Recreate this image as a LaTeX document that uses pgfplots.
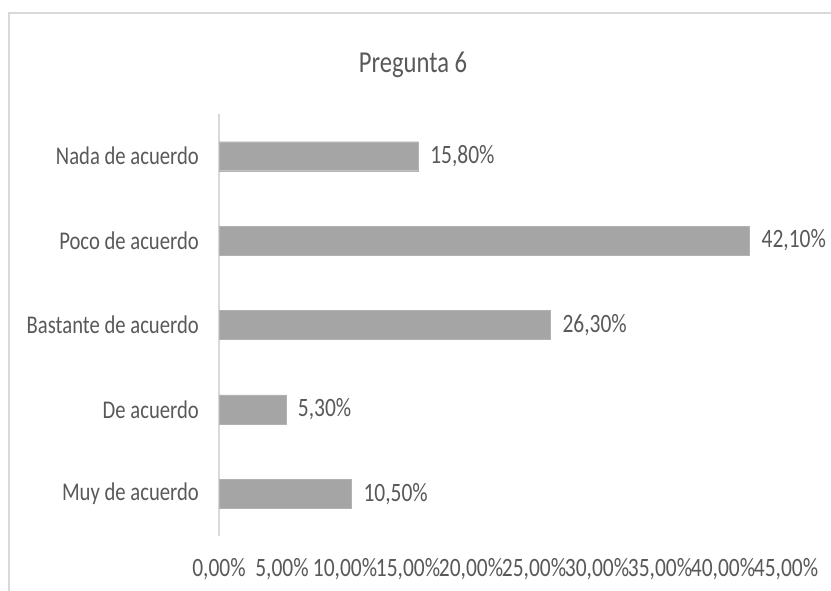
\documentclass[border=0pt]{standalone}
\usepackage{pgfplots}
\pgfplotsset{compat=1.18}
\usepackage{fontspec}
\setmainfont[FakeStretch=0.81]{Carlito}
\definecolor{txt}{HTML}{595959}
\definecolor{barc}{HTML}{A5A5A5}
\definecolor{frm}{HTML}{D9D9D9}
\begin{document}
\begin{tikzpicture}
\useasboundingbox (0,0) rectangle (831bp,591bp);
\draw[frm, line width=2bp] (9bp,-10bp) -- (9bp,578bp) -- (845bp,578bp);
\node[txt, font=\fontsize{30.4bp}{36bp}\selectfont] at (413bp,526bp) {Pregunta 6};
\begin{axis}[
  at={(219bp,55bp)}, anchor=south west,
  scale only axis, width=567bp, height=422bp,
  xbar, bar width=29bp,
  xmin=0, xmax=45, ymin=0.5, ymax=5.5,
  xtick={0,5,...,45},
  ytick={1,2,3,4,5},
  yticklabels={Muy de acuerdo,De acuerdo,Bastante de acuerdo,Poco de acuerdo,Nada de acuerdo},
  axis lines*=left,
  x axis line style={draw=none},
  y axis line style={draw=frm, line width=1.5bp},
  major tick length=0pt,
  /pgf/number format/assume math mode=true,
  xticklabel={\pgfmathprintnumber[fixed,fixed zerofill,precision=2,use comma]{\tick}\%},
  xticklabel style={anchor=center, yshift=-33bp, inner sep=0pt, text=txt, font=\fontsize{26.5bp}{30bp}\selectfont},
  yticklabel style={anchor=east, xshift=-20bp, inner sep=0pt, text=txt, font=\fontsize{25.5bp}{30bp}\selectfont},
  nodes near coords={\pgfmathprintnumber[fixed,fixed zerofill,precision=2,use comma,assume math mode=true]{\pgfplotspointmeta}\%},
  nodes near coords style={anchor=west, inner sep=0pt, xshift=12bp, text=txt, font=\fontsize{26.5bp}{30bp}\selectfont},
  point meta=explicit,
  clip=false,
]
\addplot[fill=barc, draw=barc!85!white] coordinates {
  (10.5,1) [10.5]
  (5.3,2) [5.3]
  (26.3,3) [26.3]
  (42.1,4) [42.1]
  (15.8,5) [15.8]
};
\end{axis}
\end{tikzpicture}
\end{document}
